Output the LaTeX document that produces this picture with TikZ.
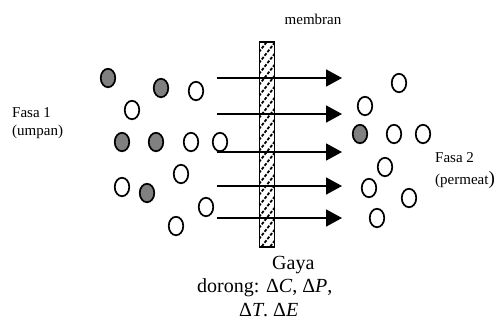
\documentclass[tikz,border=0pt]{standalone}
\usepackage{fontspec}
\setmainfont{Liberation Serif}
\usetikzlibrary{arrows.meta,shapes.geometric}
\begin{document}
\begin{tikzpicture}[x=1pt,y=-1pt,
  mol/.style={ellipse,draw=black,line width=1.7pt,minimum width=14.5pt,minimum height=18.5pt,inner sep=0pt},
  full/.style={mol,fill=black!50},
  empty/.style={mol,fill=white},
  flow/.style={line width=1.8pt,-{Triangle[length=16pt,width=17pt]}},
  small/.style={font=\fontsize{15}{18}\selectfont,inner sep=0pt},
  big/.style={font=\fontsize{20}{24}\selectfont,inner sep=0pt}]
\useasboundingbox (0,0) rectangle (501,322);
% membrane
\begin{scope}
\clip (259.5,42) rectangle (274.5,247);
\foreach \yy in {30,41,...,290}
  \draw[line width=1.8pt,dash pattern=on 3pt off 1.6pt] (259,\yy) -- (276,\yy-22);
\end{scope}
\node[draw=black,line width=1.6pt,minimum width=15pt,minimum height=205pt,inner sep=0pt] (mem) at (267,144.5) {};
% arrows
\foreach \i/\yy in {1/78,2/114,3/152,4/186,5/218}{
  \coordinate (s\i) at (217,\yy);
  \coordinate (e\i) at (342,\yy);
  \draw[flow] (s\i) -- (e\i);
}
% molecules
\foreach \n/\xx/\yy in {f1/108/78,f2/161/88,f3/122/142,f4/156/142,f5/147/193,f6/360/134}
  \node[full] (\n) at (\xx,\yy) {};
\foreach \n/\xx/\yy in {o1/196/91,o2/132/110,o3/191/142,o4/220/142,o5/122/187,o6/181/174,o7/206/207,o8/176/226,
  o9/399/83,o10/365/106,o11/394/134,o12/423/134,o13/385/167,o14/369/188,o15/409/198,o16/377/218}
  \node[empty] (\n) at (\xx,\yy) {};
% labels
\node[small,anchor=base] (tmem) at (313,24) {membran};
\node[small,anchor=base west] (f1a) at (12,117) {Fasa 1};
\node[small,anchor=base west] (f1b) at (12,135) {(umpan)};
\node[small,anchor=base west] (f2a) at (435,162) {Fasa 2};
\node[small,anchor=base west] (f2b) at (435,184) {(permeat{\fontsize{19}{19}\selectfont)}};
\node[big,anchor=base west] (g1) at (272,269) {Gaya};
\node[big,anchor=base west] (g2) at (197,292) {dorong: Δ\textit{C}, Δ\textit{P},};
\node[big,anchor=base west] (g3) at (239,316) {Δ\textit{T}. Δ\textit{E}};
\end{tikzpicture}
\end{document}
